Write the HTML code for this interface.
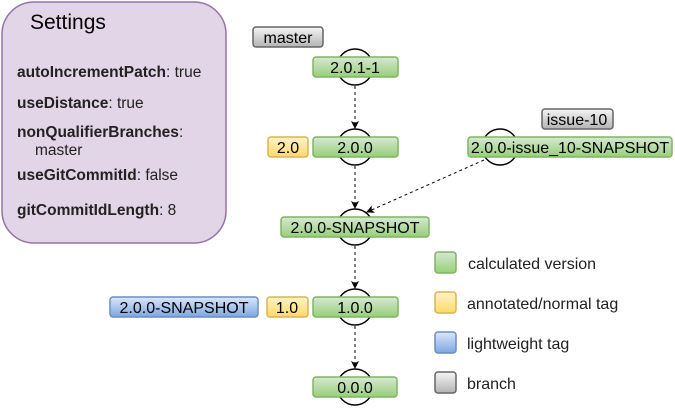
<!DOCTYPE html>
<html><head><style>
body{margin:0;width:675px;height:409px;background:#fff;overflow:hidden}
text{font-family:"Liberation Sans",sans-serif}
</style></head><body>
<svg width="675" height="409" viewBox="0 0 675 409" xmlns="http://www.w3.org/2000/svg">
<defs>
<linearGradient id="g" x1="0" y1="0" x2="0" y2="1"><stop offset="0" stop-color="#d5e8d4"/><stop offset="1" stop-color="#97d077"/></linearGradient>
<linearGradient id="y" x1="0" y1="0" x2="0" y2="1"><stop offset="0" stop-color="#fff2cc"/><stop offset="1" stop-color="#ffd966"/></linearGradient>
<linearGradient id="b" x1="0" y1="0" x2="0" y2="1"><stop offset="0" stop-color="#dae8fc"/><stop offset="1" stop-color="#7ea6e0"/></linearGradient>
<linearGradient id="k" x1="0" y1="0" x2="0" y2="1"><stop offset="0" stop-color="#f5f5f5"/><stop offset="1" stop-color="#b3b3b3"/></linearGradient>
<marker id="a" markerWidth="8" markerHeight="8" refX="7" refY="4" orient="auto" markerUnits="userSpaceOnUse"><path d="M0,0 L8,4 L0,8 L2,4z" fill="#000"/></marker>
</defs>
<rect x="2" y="2" width="224" height="241" rx="32" fill="#e1d5e7" stroke="#9673a6" stroke-width="1.5"/>
<text x="30" y="29" font-size="21">Settings</text>
<g font-size="15.5" fill="#222">
<text x="17" y="77"><tspan font-weight="bold">autoIncrementPatch</tspan>: true</text>
<text x="17" y="108"><tspan font-weight="bold">useDistance</tspan>: true</text>
<text x="17" y="137"><tspan font-weight="bold">nonQualifierBranches</tspan>:</text>
<text x="35" y="155">master</text>
<text x="17" y="180"><tspan font-weight="bold">useGitCommitId</tspan>: false</text>
<text x="17" y="215"><tspan font-weight="bold">gitCommitIdLength</tspan>: 8</text>
</g>
<g fill="none" stroke="#000" stroke-width="1.5">
<circle cx="355" cy="67" r="18"/><circle cx="355" cy="147" r="18"/><circle cx="355" cy="227" r="18"/><circle cx="355" cy="307" r="18"/><circle cx="355" cy="387" r="18"/><circle cx="500" cy="147" r="18"/>
</g>
<g stroke="#000" stroke-dasharray="3,3" marker-end="url(#a)">
<line x1="355" y1="86" x2="355" y2="128"/><line x1="355" y1="166" x2="355" y2="208"/><line x1="355" y1="246" x2="355" y2="288"/><line x1="355" y1="326" x2="355" y2="368"/><line x1="484" y1="160" x2="367" y2="212"/>
</g>
<g stroke-width="1.5" font-size="16" text-anchor="middle">
<rect x="253" y="27" width="70" height="20" rx="3" fill="url(#k)" stroke="#666"/><text x="288" y="43">master</text>
<rect x="542" y="109" width="71" height="20" rx="3" fill="url(#k)" stroke="#666"/><text x="577" y="125">issue-10</text>
<rect x="313" y="57" width="85" height="20" rx="3" fill="url(#g)" stroke="#82b366"/><text x="355" y="73">2.0.1-1</text>
<rect x="268" y="137" width="40" height="20" rx="3" fill="url(#y)" stroke="#d6b656"/><text x="288" y="153">2.0</text>
<rect x="313" y="137" width="85" height="20" rx="3" fill="url(#g)" stroke="#82b366"/><text x="355" y="153">2.0.0</text>
<rect x="468" y="137" width="204" height="20" rx="3" fill="url(#g)" stroke="#82b366"/><text x="570" y="153">2.0.0-issue_10-SNAPSHOT</text>
<rect x="281" y="217" width="148" height="20" rx="3" fill="url(#g)" stroke="#82b366"/><text x="355" y="233">2.0.0-SNAPSHOT</text>
<rect x="110" y="297" width="148" height="20" rx="3" fill="url(#b)" stroke="#6c8ebf"/><text x="184" y="313">2.0.0-SNAPSHOT</text>
<rect x="267" y="297" width="41" height="20" rx="3" fill="url(#y)" stroke="#d6b656"/><text x="287" y="313">1.0</text>
<rect x="313" y="297" width="85" height="20" rx="3" fill="url(#g)" stroke="#82b366"/><text x="355" y="313">1.0.0</text>
<rect x="313" y="377" width="84" height="20" rx="3" fill="url(#g)" stroke="#82b366"/><text x="355" y="393">0.0.0</text>
</g>
<g stroke-width="1.5">
<rect x="435" y="252" width="21" height="21" rx="3" fill="url(#g)" stroke="#82b366"/>
<rect x="435" y="292" width="21" height="21" rx="3" fill="url(#y)" stroke="#d6b656"/>
<rect x="435" y="332" width="21" height="21" rx="3" fill="url(#b)" stroke="#6c8ebf"/>
<rect x="435" y="372" width="21" height="21" rx="3" fill="url(#k)" stroke="#666"/>
</g>
<g font-size="16" fill="#222">
<text x="468" y="269">calculated version</text>
<text x="467" y="309">annotated/normal tag</text>
<text x="467" y="349">lightweight tag</text>
<text x="467" y="389">branch</text>
</g>
</svg>
</body></html>
